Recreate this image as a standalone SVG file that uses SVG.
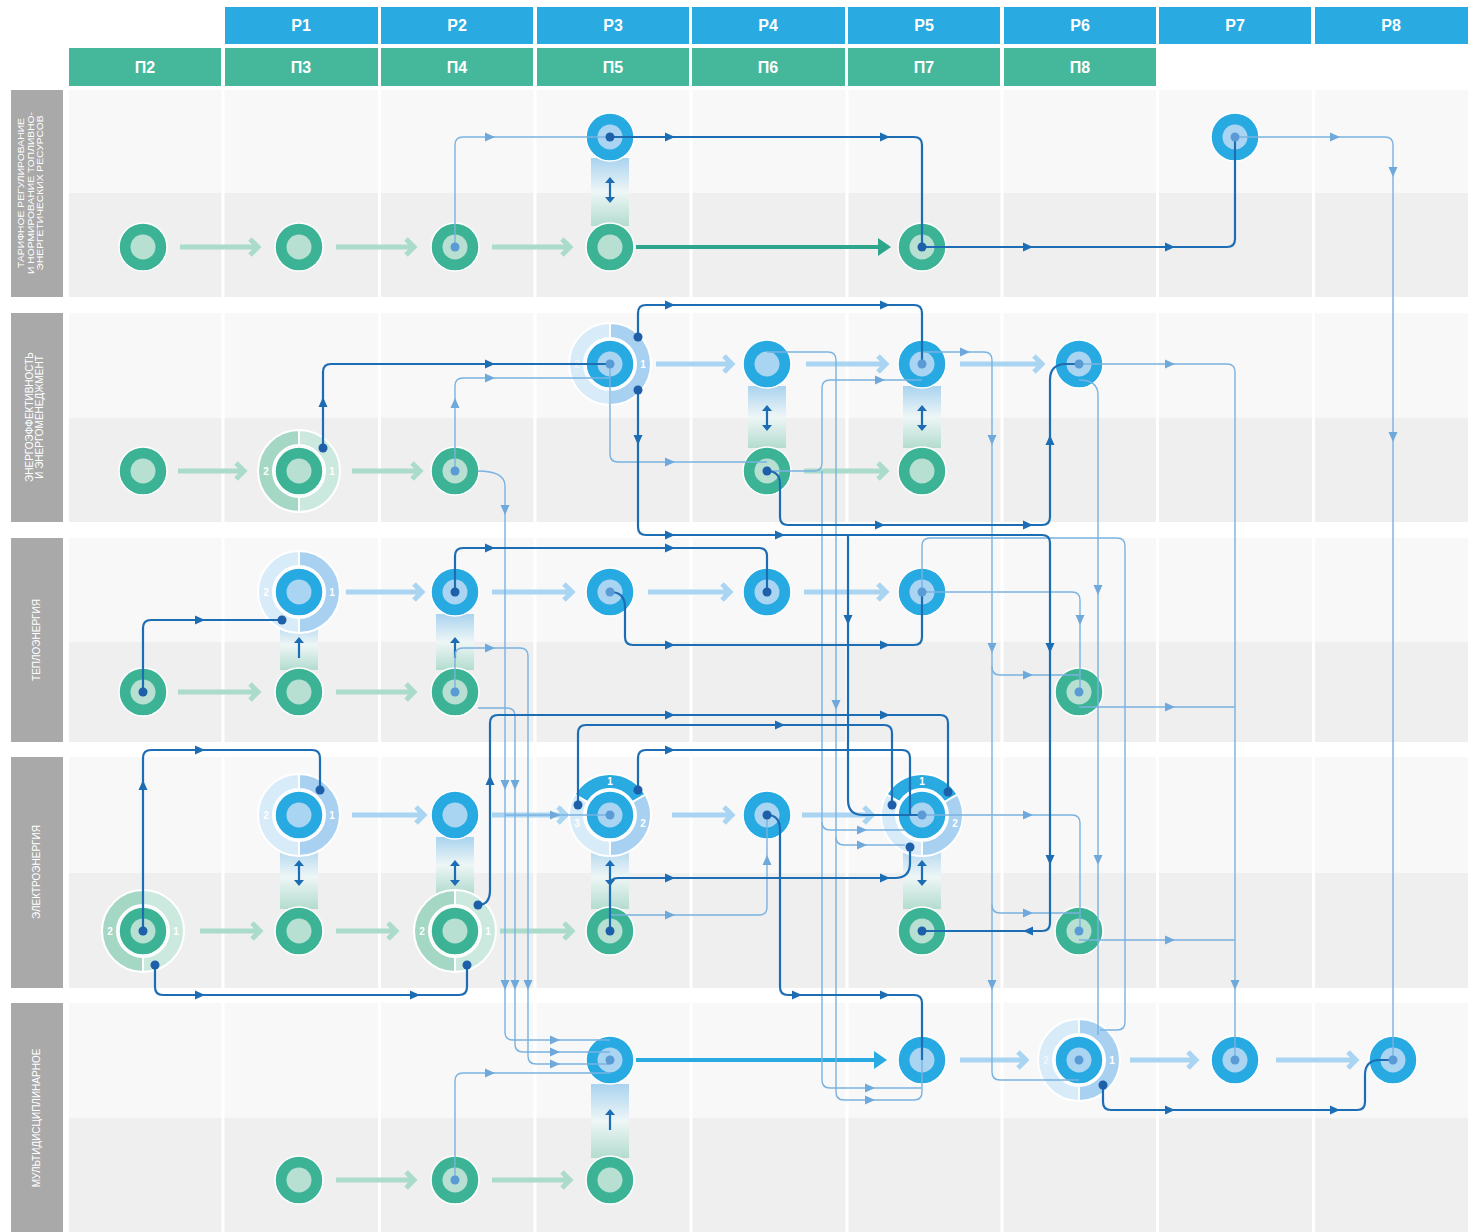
<svg xmlns="http://www.w3.org/2000/svg" xmlns:xlink="http://www.w3.org/1999/xlink" width="1478" height="1232" viewBox="0 0 1478 1232">
<style>
.hb{fill:#29abe2}.hg{fill:#45b89c}
.ht{font-family:"Liberation Sans",Arial,sans-serif;font-weight:bold;font-size:16px;fill:#fff;text-anchor:middle}
.lab{fill:#a9a9a9}
.lt{font-family:"Liberation Sans",Arial,sans-serif;font-size:10px;fill:#fff;text-anchor:middle}
.lt1{font-family:"Liberation Sans",Arial,sans-serif;font-size:8.4px;fill:#fff;text-anchor:middle}
.up{fill:#f8f8f8}.lo{fill:#efefef}
.d{fill:none;stroke:#1d6db4;stroke-width:2.2}
.l{fill:none;stroke:#7ab2e0;stroke-width:1.4}
.ad{fill:#1d6db4}.al{fill:#6fa9dc}
.pg{fill:none;stroke:#abdccb;stroke-width:5}
.pb{fill:none;stroke:#a9d5f3;stroke-width:5}
.num{font-family:"Liberation Sans",Arial,sans-serif;font-weight:bold;font-size:10px;fill:#fff;text-anchor:middle}
.dd{fill:#1d5fa8}.dl{fill:#5b9bd5}
.sg{stroke:#fff;stroke-width:2}
</style>
<defs>
<path id="a" d="M-5,-4.5 L5,0 L-5,4.5 Z"/>
<g id="gn"><circle r="24" fill="#3db396" stroke="#fff" stroke-width="1.5"/><circle r="12.5" fill="#b7dfd2"/></g>
<g id="bn"><circle r="24" fill="#27a9e1" stroke="#fff" stroke-width="1.5"/><circle r="12.5" fill="#a9d5f3"/></g>
<path id="sR" d="M0,-41 A41,41 0 0 1 0,41 L0,26 A26,26 0 0 0 0,-26 Z"/>
<path id="sL" d="M0,41 A41,41 0 0 1 0,-41 L0,-26 A26,26 0 0 0 0,26 Z"/>
<path id="s3T" d="M-35.5,-20.5 A41,41 0 0 1 35.5,-20.5 L22.5,-13 A26,26 0 0 0 -22.5,-13 Z"/>
<path id="s3R" d="M35.5,-20.5 A41,41 0 0 1 0,41 L0,26 A26,26 0 0 0 22.5,-13 Z"/>
<path id="s3L" d="M0,41 A41,41 0 0 1 -35.5,-20.5 L-22.5,-13 A26,26 0 0 0 0,26 Z"/>
<linearGradient id="bar" x1="0" y1="0" x2="0" y2="1">
<stop offset="0" stop-color="#a9d3ef"/><stop offset="0.5" stop-color="#eef6f6"/><stop offset="1" stop-color="#b3dccf"/>
</linearGradient>
<g id="dbl"><path d="M0,-9 V9" stroke="#1d6db4" stroke-width="2.2"/><path d="M-5,-7 L0,-13 L5,-7 Z M-5,7 L0,13 L5,7 Z" fill="#1d6db4"/></g>
<g id="uparr"><path d="M0,-6 V10" stroke="#1d6db4" stroke-width="2.2"/><path d="M-5,-5 L0,-11 L5,-5 Z" fill="#1d6db4"/></g>
</defs>

<rect width="1478" height="1232" fill="#fff"/>

<g id="headers">
<rect class="hb" x="225" y="7" width="153" height="37"/><text class="ht" x="301" y="31">P1</text>
<rect class="hb" x="381" y="7" width="152" height="37"/><text class="ht" x="457" y="31">P2</text>
<rect class="hb" x="537" y="7" width="152" height="37"/><text class="ht" x="613" y="31">P3</text>
<rect class="hb" x="692" y="7" width="153" height="37"/><text class="ht" x="768" y="31">P4</text>
<rect class="hb" x="848" y="7" width="152" height="37"/><text class="ht" x="924" y="31">P5</text>
<rect class="hb" x="1004" y="7" width="152" height="37"/><text class="ht" x="1080" y="31">P6</text>
<rect class="hb" x="1159" y="7" width="152" height="37"/><text class="ht" x="1235" y="31">P7</text>
<rect class="hb" x="1315" y="7" width="153" height="37"/><text class="ht" x="1391" y="31">P8</text>
<rect class="hg" x="69" y="48" width="152" height="38"/><text class="ht" x="145" y="73">П2</text>
<rect class="hg" x="225" y="48" width="153" height="38"/><text class="ht" x="301" y="73">П3</text>
<rect class="hg" x="381" y="48" width="152" height="38"/><text class="ht" x="457" y="73">П4</text>
<rect class="hg" x="537" y="48" width="152" height="38"/><text class="ht" x="613" y="73">П5</text>
<rect class="hg" x="692" y="48" width="153" height="38"/><text class="ht" x="768" y="73">П6</text>
<rect class="hg" x="848" y="48" width="152" height="38"/><text class="ht" x="924" y="73">П7</text>
<rect class="hg" x="1004" y="48" width="152" height="38"/><text class="ht" x="1080" y="73">П8</text>
</g>

<g id="grid">
<rect class="up" x="69" y="90" width="1399" height="103"/><rect class="lo" x="69" y="193" width="1399" height="104"/>
<rect class="up" x="69" y="313" width="1399" height="105"/><rect class="lo" x="69" y="418" width="1399" height="104"/>
<rect class="up" x="69" y="538" width="1399" height="104"/><rect class="lo" x="69" y="642" width="1399" height="100"/>
<rect class="up" x="69" y="757" width="1399" height="116"/><rect class="lo" x="69" y="873" width="1399" height="115"/>
<rect class="up" x="69" y="1003" width="1399" height="115"/><rect class="lo" x="69" y="1118" width="1399" height="114"/>
<g fill="#fff">
<rect x="221.5" y="86" width="3" height="1146"/><rect x="378" y="86" width="3" height="1146"/><rect x="533.5" y="86" width="3" height="1146"/>
<rect x="689.5" y="86" width="3" height="1146"/><rect x="845.5" y="86" width="3" height="1146"/><rect x="1000.5" y="86" width="3" height="1146"/>
<rect x="1156" y="86" width="3" height="1146"/><rect x="1312" y="86" width="3" height="1146"/>
</g>
</g>

<g id="row-labels">
<rect class="lab" x="11" y="90" width="52" height="207"/>
<text class="lt1" transform="translate(24,193) rotate(-90)" textLength="150" lengthAdjust="spacingAndGlyphs">ТАРИФНОЕ РЕГУЛИРОВАНИЕ</text>
<text class="lt1" transform="translate(33.5,193) rotate(-90)" textLength="162" lengthAdjust="spacingAndGlyphs">И НОРМИРОВАНИЕ ТОПЛИВНО-</text>
<text class="lt1" transform="translate(43,193) rotate(-90)" textLength="155" lengthAdjust="spacingAndGlyphs">ЭНЕРГЕТИЧЕСКИХ РЕСУРСОВ</text>
<rect class="lab" x="11" y="313" width="52" height="209"/>
<text class="lt" transform="translate(33,417) rotate(-90)">ЭНЕРГОЭФФЕКТИВНОСТЬ</text>
<text class="lt" transform="translate(43,417) rotate(-90)">И ЭНЕРГОМЕНЕДЖМЕНТ</text>
<rect class="lab" x="11" y="538" width="52" height="204"/>
<text class="lt" transform="translate(40,640) rotate(-90)">ТЕПЛОЭНЕРГИЯ</text>
<rect class="lab" x="11" y="757" width="52" height="231"/>
<text class="lt" transform="translate(40,872) rotate(-90)">ЭЛЕКТРОЭНЕРГИЯ</text>
<rect class="lab" x="11" y="1003" width="52" height="229"/>
<text class="lt" transform="translate(40,1118) rotate(-90)">МУЛЬТИДИСЦИПЛИНАРНОЕ</text>
</g>

<g id="links-vertical">
<rect x="591" y="158" width="38" height="68" fill="url(#bar)"/><use href="#dbl" transform="translate(610,190)"/>
<rect x="748" y="386" width="38" height="62" fill="url(#bar)"/><use href="#dbl" transform="translate(767,418)"/>
<rect x="903" y="386" width="38" height="62" fill="url(#bar)"/><use href="#dbl" transform="translate(922,418)"/>
<rect x="280" y="620" width="38" height="50" fill="url(#bar)"/><use href="#uparr" transform="translate(299,648)"/>
<rect x="436" y="614" width="38" height="56" fill="url(#bar)"/><use href="#uparr" transform="translate(455,648)"/>
<rect x="280" y="845" width="38" height="64" fill="url(#bar)"/><use href="#dbl" transform="translate(299,873)"/>
<rect x="436" y="837" width="38" height="56" fill="url(#bar)"/><use href="#dbl" transform="translate(455,873)"/>
<rect x="591" y="845" width="38" height="64" fill="url(#bar)"/><use href="#dbl" transform="translate(610,873)"/>
<rect x="903" y="845" width="38" height="64" fill="url(#bar)"/><use href="#dbl" transform="translate(922,873)"/>
<rect x="591" y="1084" width="38" height="74" fill="url(#bar)"/><use href="#uparr" transform="translate(610,1120)"/>
</g>

<g id="process-arrows">
<path class="pg" d="M180,247 H258 M250,239 L258,247 L250,255"/>
<path class="pg" d="M336,247 H414 M406,239 L414,247 L406,255"/>
<path class="pg" d="M492,247 H570 M562,239 L570,247 L562,255"/>
<path class="pg" d="M178,471 H244 M236,463 L244,471 L236,479"/>
<path class="pg" d="M352,471 H420 M412,463 L420,471 L412,479"/>
<path class="pg" d="M804,471 H886 M878,463 L886,471 L878,479"/>
<path class="pg" d="M178,692 H258 M250,684 L258,692 L250,700"/>
<path class="pg" d="M336,692 H414 M406,684 L414,692 L406,700"/>
<path class="pg" d="M200,931 H260 M252,923 L260,931 L252,939"/>
<path class="pg" d="M336,931 H396 M388,923 L396,931 L388,939"/>
<path class="pg" d="M500,931 H572 M564,923 L572,931 L564,939"/>
<path class="pg" d="M336,1180 H414 M406,1172 L414,1180 L406,1188"/>
<path class="pg" d="M492,1180 H570 M562,1172 L570,1180 L562,1188"/>
<path class="pb" d="M656,364 H732 M724,356 L732,364 L724,372"/>
<path class="pb" d="M806,364 H886 M878,356 L886,364 L878,372"/>
<path class="pb" d="M960,364 H1042 M1034,356 L1042,364 L1034,372"/>
<path class="pb" d="M346,592 H422 M414,584 L422,592 L414,600"/>
<path class="pb" d="M492,592 H572 M564,584 L572,592 L564,600"/>
<path class="pb" d="M648,592 H730 M722,584 L730,592 L722,600"/>
<path class="pb" d="M804,592 H886 M878,584 L886,592 L878,600"/>
<path class="pb" d="M352,815 H424 M416,807 L424,815 L416,823"/>
<path class="pb" d="M492,815 H566 M558,807 L566,815 L558,823"/>
<path class="pb" d="M672,815 H732 M724,807 L732,815 L724,823"/>
<path class="pb" d="M802,815 H872 M864,807 L872,815 L864,823"/>
<path class="pb" d="M960,1060 H1026 M1018,1052 L1026,1060 L1018,1068"/>
<path class="pb" d="M1130,1060 H1196 M1188,1052 L1196,1060 L1188,1068"/>
<path class="pb" d="M1276,1060 H1356 M1348,1052 L1356,1060 L1348,1068"/>
<path d="M636,247 H880" stroke="#2ea68b" stroke-width="4" fill="none"/><path d="M878,238 L891,247 L878,256 Z" fill="#2ea68b"/>
<path d="M636,1060 H876" stroke="#29abe2" stroke-width="4" fill="none"/><path d="M874,1051 L887,1060 L874,1069 Z" fill="#29abe2"/>
</g>

<g id="n-b2-p1"><g transform="translate(299,471)"><use href="#sL" fill="#a5d7c5" class="sg"/><use href="#sR" fill="#cbe9de" class="sg"/><text class="num" x="-33" y="4">2</text><text class="num" x="33" y="4">1</text><use href="#gn"/></g></g>
<g id="n-b2-p3"><g transform="translate(610,364)"><use href="#sL" fill="#d7ebf8" class="sg"/><use href="#sR" fill="#a8d0f0" class="sg"/><text class="num" x="-33" y="4" fill-opacity="0.6">2</text><text class="num" x="33" y="4">1</text><use href="#bn"/></g></g>
<g id="n-b3-p1"><g transform="translate(299,592)"><use href="#sL" fill="#d7ebf8" class="sg"/><use href="#sR" fill="#a8d0f0" class="sg"/><text class="num" x="-33" y="4">2</text><text class="num" x="33" y="4">1</text><use href="#bn"/></g></g>
<g id="n-b4-p1"><g transform="translate(299,815)"><use href="#sL" fill="#d7ebf8" class="sg"/><use href="#sR" fill="#a8d0f0" class="sg"/><text class="num" x="-33" y="4">2</text><text class="num" x="33" y="4">1</text><use href="#bn"/></g></g>
<g id="n-b4-p3"><g transform="translate(610,815)"><use href="#s3T" fill="#29abe2" class="sg"/><use href="#s3R" fill="#a8d0f0" class="sg"/><use href="#s3L" fill="#d7ebf8" class="sg"/><text class="num" x="0" y="-30">1</text><text class="num" x="33" y="12">2</text><text class="num" x="-33" y="12">3</text><use href="#bn"/></g></g>
<g id="n-b4-p5"><g transform="translate(922,815)"><use href="#s3T" fill="#29abe2" class="sg"/><use href="#s3R" fill="#a8d0f0" class="sg"/><use href="#s3L" fill="#d7ebf8" class="sg"/><text class="num" x="0" y="-30">1</text><text class="num" x="33" y="12">2</text><use href="#bn"/></g></g>
<g id="n-b4l-p2"><g transform="translate(143,931)"><use href="#sL" fill="#a5d7c5" class="sg"/><use href="#sR" fill="#cbe9de" class="sg"/><text class="num" x="-33" y="4">2</text><text class="num" x="33" y="4">1</text><use href="#gn"/></g></g>
<g id="n-b4l-p4"><g transform="translate(455,931)"><use href="#sL" fill="#a5d7c5" class="sg"/><use href="#sR" fill="#cbe9de" class="sg"/><text class="num" x="-33" y="4">2</text><text class="num" x="33" y="4">1</text><use href="#gn"/></g></g>
<g id="n-b5-p6"><g transform="translate(1079,1060)"><use href="#sL" fill="#d7ebf8" class="sg"/><use href="#sR" fill="#a8d0f0" class="sg"/><text class="num" x="-33" y="4" fill-opacity="0.6">2</text><text class="num" x="33" y="4">1</text><use href="#bn"/></g></g>

<g id="nodes">
<g id="n-b1l-1"><use href="#gn" x="143" y="247"/></g>
<g id="n-b1l-2"><use href="#gn" x="299" y="247"/></g>
<g id="n-b1l-3"><use href="#gn" x="455" y="247"/></g>
<g id="n-b1l-4"><use href="#gn" x="610" y="247"/></g>
<g id="n-b1l-6"><use href="#gn" x="922" y="247"/></g>
<g id="n-b1u-3"><use href="#bn" x="610" y="137"/></g>
<g id="n-b1u-7"><use href="#bn" x="1235" y="137"/></g>
<g id="n-b2l-1"><use href="#gn" x="143" y="471"/></g>
<g id="n-b2l-3"><use href="#gn" x="455" y="471"/></g>
<g id="n-b2l-5"><use href="#gn" x="767" y="471"/></g>
<g id="n-b2l-6"><use href="#gn" x="922" y="471"/></g>
<g id="n-b2u-5"><use href="#bn" x="767" y="364"/></g>
<g id="n-b2u-6"><use href="#bn" x="922" y="364"/></g>
<g id="n-b2u-7"><use href="#bn" x="1079" y="364"/></g>
<g id="n-b3u-3"><use href="#bn" x="455" y="592"/></g>
<g id="n-b3u-4"><use href="#bn" x="610" y="592"/></g>
<g id="n-b3u-5"><use href="#bn" x="767" y="592"/></g>
<g id="n-b3u-6"><use href="#bn" x="922" y="592"/></g>
<g id="n-b3l-1"><use href="#gn" x="143" y="692"/></g>
<g id="n-b3l-2"><use href="#gn" x="299" y="692"/></g>
<g id="n-b3l-3"><use href="#gn" x="455" y="692"/></g>
<g id="n-b3l-7"><use href="#gn" x="1079" y="692"/></g>
<g id="n-b4u-3"><use href="#bn" x="455" y="815"/></g>
<g id="n-b4u-5"><use href="#bn" x="767" y="815"/></g>
<g id="n-b4l-2"><use href="#gn" x="299" y="931"/></g>
<g id="n-b4l-4"><use href="#gn" x="610" y="931"/></g>
<g id="n-b4l-6"><use href="#gn" x="922" y="931"/></g>
<g id="n-b4l-7"><use href="#gn" x="1079" y="931"/></g>
<g id="n-b5u-4"><use href="#bn" x="610" y="1060"/></g>
<g id="n-b5u-6"><use href="#bn" x="922" y="1060"/></g>
<g id="n-b5u-8"><use href="#bn" x="1235" y="1060"/></g>
<g id="n-b5u-9"><use href="#bn" x="1393" y="1060"/></g>
<g id="n-b5l-2"><use href="#gn" x="299" y="1180"/></g>
<g id="n-b5l-3"><use href="#gn" x="455" y="1180"/></g>
<g id="n-b5l-4"><use href="#gn" x="610" y="1180"/></g>
</g>

<g id="connectors">
<g class="l-group">
<path class="l" d="M455,247 V145 Q455,137 463,137 H610"/>
<path class="l" d="M1235,137 H1385 Q1393,137 1393,145 V1060"/>
<path class="l" d="M455,471 V386 Q455,378 463,378 H610"/>
<path class="l" d="M610,364 V454 Q610,462 618,462 H767"/>
<path class="l" d="M767,352 H828 Q836,352 836,360 V1092 Q836,1100 844,1100 H914 Q922,1100 922,1092 V1060"/>
<path class="l" d="M767,471 H814 Q822,471 822,463 V388 Q822,380 830,380 H922"/>
<path class="l" d="M822,471 V1080 Q822,1088 830,1088 H922"/>
<path class="l" d="M822,822 Q822,830 830,830 H905"/>
<path class="l" d="M836,837 Q836,845 844,845 H905"/>
<path class="l" d="M922,352 H984 Q992,352 992,360 V1072 Q992,1080 1000,1080 H1079"/>
<path class="l" d="M992,667 Q992,675 1000,675 H1079"/>
<path class="l" d="M992,905 Q992,913 1000,913 H1079"/>
<path class="l" d="M1079,364 H1227 Q1235,364 1235,372 V1060"/>
<path class="l" d="M1079,707 H1235"/>
<path class="l" d="M1079,940 H1235"/>
<path class="l" d="M1079,380 Q1098,380 1098,395 V1035"/>
<path class="l" d="M922,592 V546 Q922,538 930,538 H1117 Q1125,538 1125,546 V1022 Q1125,1030 1117,1030 H1100"/>
<path class="l" d="M922,592 H1072 Q1080,592 1080,600 V692"/>
<path class="l" d="M922,815 H1072 Q1080,815 1080,823 V931"/>
<path class="l" d="M478,471 Q505,471 505,486 V1032 Q505,1040 513,1040 H610"/>
<path class="l" d="M505,815 H610"/>
<path class="l" d="M478,708 H507 Q515,708 515,716 V1044 Q515,1052 523,1052 H610"/>
<path class="l" d="M455,692 V656 Q455,648 463,648 H520 Q528,648 528,656 V1056 Q528,1064 536,1064 H610"/>
<path class="l" d="M610,915 H759 Q767,915 767,907 V815"/>
<path class="l" d="M455,1180 V1081 Q455,1073 463,1073 H610"/>
</g>
<g class="d-group">
<path class="d" d="M610,137 H914 Q922,137 922,145 V247"/>
<path class="d" d="M922,247 H1227 Q1235,247 1235,239 V137"/>
<path class="d" d="M323,448 V372 Q323,364 331,364 H610"/>
<path class="d" d="M638,337 V313 Q638,305 646,305 H914 Q922,305 922,313 V364"/>
<path class="d" d="M638,390 V527 Q638,535 646,535 H1042 Q1050,535 1050,543 V923 Q1050,931 1042,931 H922"/>
<path class="d" d="M848,535 V800 Q848,815 863,815 H922"/>
<path class="d" d="M767,471 Q780,471 780,484 V517 Q780,525 788,525 H1042 Q1050,525 1050,517 V380 Q1050,364 1066,364 H1079"/>
<path class="d" d="M143,692 V628 Q143,620 151,620 H282"/>
<path class="d" d="M455,592 V556 Q455,548 463,548 H759 Q767,548 767,556 V592"/>
<path class="d" d="M610,592 Q625,592 625,607 V637 Q625,645 633,645 H914 Q922,645 922,637 V592"/>
<path class="d" d="M143,931 V758 Q143,750 151,750 H312 Q320,750 320,758 V790"/>
<path class="d" d="M155,965 V987 Q155,995 163,995 H459 Q467,995 467,987 V965"/>
<path class="d" d="M478,905 Q490,905 490,890 V723 Q490,715 498,715 H940 Q948,715 948,723 V792"/>
<path class="d" d="M578,805 V733 Q578,725 586,725 H884 Q892,725 892,733 V805"/>
<path class="d" d="M638,790 V758 Q638,750 646,750 H902 Q910,750 910,758 V815"/>
<path class="d" d="M610,931 V886 Q610,878 618,878 H895 Q910,878 910,863 V847"/>
<path class="d" d="M767,815 Q780,815 780,830 V987 Q780,995 788,995 H914 Q922,995 922,1003 V1060"/>
<path class="d" d="M1103,1085 V1102 Q1103,1110 1111,1110 H1357 Q1365,1110 1365,1102 V1075 Q1365,1060 1380,1060 H1393"/>
</g>
<g id="arrowheads">
<use href="#a" class="al" transform="translate(490,137)"/>
<use href="#a" class="al" transform="translate(1335,137)"/>
<use href="#a" class="al" transform="translate(1393,172) rotate(90)"/>
<use href="#a" class="al" transform="translate(1393,437) rotate(90)"/>
<use href="#a" class="al" transform="translate(455,403) rotate(-90)"/>
<use href="#a" class="al" transform="translate(490,378)"/>
<use href="#a" class="al" transform="translate(670,462)"/>
<use href="#a" class="al" transform="translate(836,705) rotate(90)"/>
<use href="#a" class="al" transform="translate(870,1100)"/>
<use href="#a" class="al" transform="translate(880,380)"/>
<use href="#a" class="al" transform="translate(870,1088)"/>
<use href="#a" class="al" transform="translate(862,830)"/>
<use href="#a" class="al" transform="translate(862,845)"/>
<use href="#a" class="al" transform="translate(965,352)"/>
<use href="#a" class="al" transform="translate(992,440) rotate(90)"/>
<use href="#a" class="al" transform="translate(992,648) rotate(90)"/>
<use href="#a" class="al" transform="translate(992,985) rotate(90)"/>
<use href="#a" class="al" transform="translate(1028,675)"/>
<use href="#a" class="al" transform="translate(1028,913)"/>
<use href="#a" class="al" transform="translate(1170,364)"/>
<use href="#a" class="al" transform="translate(1235,985) rotate(90)"/>
<use href="#a" class="al" transform="translate(1170,707)"/>
<use href="#a" class="al" transform="translate(1170,940)"/>
<use href="#a" class="al" transform="translate(1098,590) rotate(90)"/>
<use href="#a" class="al" transform="translate(1098,860) rotate(90)"/>
<use href="#a" class="al" transform="translate(1080,620) rotate(90)"/>
<use href="#a" class="al" transform="translate(1028,815)"/>
<use href="#a" class="al" transform="translate(505,510) rotate(90)"/>
<use href="#a" class="al" transform="translate(505,785) rotate(90)"/>
<use href="#a" class="al" transform="translate(505,985) rotate(90)"/>
<use href="#a" class="al" transform="translate(555,1040)"/>
<use href="#a" class="al" transform="translate(555,815)"/>
<use href="#a" class="al" transform="translate(515,785) rotate(90)"/>
<use href="#a" class="al" transform="translate(515,985) rotate(90)"/>
<use href="#a" class="al" transform="translate(555,1052)"/>
<use href="#a" class="al" transform="translate(490,648)"/>
<use href="#a" class="al" transform="translate(528,985) rotate(90)"/>
<use href="#a" class="al" transform="translate(555,1064)"/>
<use href="#a" class="al" transform="translate(670,915)"/>
<use href="#a" class="al" transform="translate(767,860) rotate(-90)"/>
<use href="#a" class="al" transform="translate(490,1073)"/>
<use href="#a" class="ad" transform="translate(670,137)"/>
<use href="#a" class="ad" transform="translate(885,137)"/>
<use href="#a" class="ad" transform="translate(1028,247)"/>
<use href="#a" class="ad" transform="translate(1170,247)"/>
<use href="#a" class="ad" transform="translate(323,402) rotate(-90)"/>
<use href="#a" class="ad" transform="translate(490,364)"/>
<use href="#a" class="ad" transform="translate(670,305)"/>
<use href="#a" class="ad" transform="translate(885,305)"/>
<use href="#a" class="ad" transform="translate(638,440) rotate(90)"/>
<use href="#a" class="ad" transform="translate(670,535)"/>
<use href="#a" class="ad" transform="translate(780,535)"/>
<use href="#a" class="ad" transform="translate(1050,648) rotate(90)"/>
<use href="#a" class="ad" transform="translate(1050,860) rotate(90)"/>
<use href="#a" class="ad" transform="translate(1028,931) rotate(180)"/>
<use href="#a" class="ad" transform="translate(848,620) rotate(90)"/>
<use href="#a" class="ad" transform="translate(880,525)"/>
<use href="#a" class="ad" transform="translate(1028,525)"/>
<use href="#a" class="ad" transform="translate(1050,440) rotate(-90)"/>
<use href="#a" class="ad" transform="translate(200,620)"/>
<use href="#a" class="ad" transform="translate(490,548)"/>
<use href="#a" class="ad" transform="translate(670,548)"/>
<use href="#a" class="ad" transform="translate(670,645)"/>
<use href="#a" class="ad" transform="translate(885,645)"/>
<use href="#a" class="ad" transform="translate(143,785) rotate(-90)"/>
<use href="#a" class="ad" transform="translate(200,750)"/>
<use href="#a" class="ad" transform="translate(200,995)"/>
<use href="#a" class="ad" transform="translate(415,995)"/>
<use href="#a" class="ad" transform="translate(490,780) rotate(-90)"/>
<use href="#a" class="ad" transform="translate(670,715)"/>
<use href="#a" class="ad" transform="translate(885,715)"/>
<use href="#a" class="ad" transform="translate(780,725)"/>
<use href="#a" class="ad" transform="translate(670,750)"/>
<use href="#a" class="ad" transform="translate(670,878)"/>
<use href="#a" class="ad" transform="translate(885,878)"/>
<use href="#a" class="ad" transform="translate(797,995)"/>
<use href="#a" class="ad" transform="translate(885,995)"/>
<use href="#a" class="ad" transform="translate(1170,1110)"/>
<use href="#a" class="ad" transform="translate(1335,1110)"/>
</g>
<g id="dots">
<circle class="dd" cx="610" cy="137" r="4.5"/><circle class="dd" cx="922" cy="247" r="4.5"/>
<circle class="dd" cx="323" cy="448" r="4.5"/><circle class="dd" cx="638" cy="337" r="4.5"/>
<circle class="dd" cx="638" cy="390" r="4.5"/><circle class="dd" cx="767" cy="471" r="4.5"/>
<circle class="dd" cx="143" cy="692" r="4.5"/><circle class="dd" cx="282" cy="620" r="4.5"/>
<circle class="dd" cx="455" cy="592" r="4.5"/><circle class="dd" cx="767" cy="592" r="4.5"/>
<circle class="dd" cx="143" cy="931" r="4.5"/><circle class="dd" cx="320" cy="790" r="4.5"/>
<circle class="dd" cx="155" cy="965" r="4.5"/><circle class="dd" cx="467" cy="965" r="4.5"/>
<circle class="dd" cx="478" cy="905" r="4.5"/><circle class="dd" cx="948" cy="792" r="4.5"/>
<circle class="dd" cx="578" cy="805" r="4.5"/><circle class="dd" cx="892" cy="805" r="4.5"/>
<circle class="dd" cx="638" cy="790" r="4.5"/><circle class="dd" cx="910" cy="847" r="4.5"/>
<circle class="dd" cx="610" cy="931" r="4.5"/><circle class="dd" cx="922" cy="931" r="4.5"/>
<circle class="dd" cx="1103" cy="1085" r="4.5"/><circle class="dd" cx="767" cy="815" r="4.5"/>
<circle class="dl" cx="455" cy="247" r="4.5"/><circle class="dl" cx="1235" cy="137" r="4.5"/>
<circle class="dl" cx="455" cy="471" r="4.5"/><circle class="dl" cx="610" cy="364" r="4.5"/>
<circle class="dl" cx="922" cy="364" r="4.5"/><circle class="dl" cx="1079" cy="364" r="4.5"/>
<circle class="dl" cx="455" cy="692" r="4.5"/><circle class="dl" cx="922" cy="592" r="4.5"/>
<circle class="dl" cx="1079" cy="692" r="4.5"/><circle class="dl" cx="1079" cy="931" r="4.5"/>
<circle class="dl" cx="610" cy="1060" r="4.5"/><circle class="dl" cx="455" cy="1180" r="4.5"/>
<circle class="dl" cx="1393" cy="1060" r="4.5"/><circle class="dl" cx="1079" cy="1060" r="4.5"/>
<circle class="dl" cx="1235" cy="1060" r="4.5"/><circle class="dl" cx="922" cy="815" r="4.5"/>
<circle class="dl" cx="610" cy="815" r="4.5"/><circle class="dl" cx="610" cy="592" r="4.5"/>
</g>
</g>
</svg>
